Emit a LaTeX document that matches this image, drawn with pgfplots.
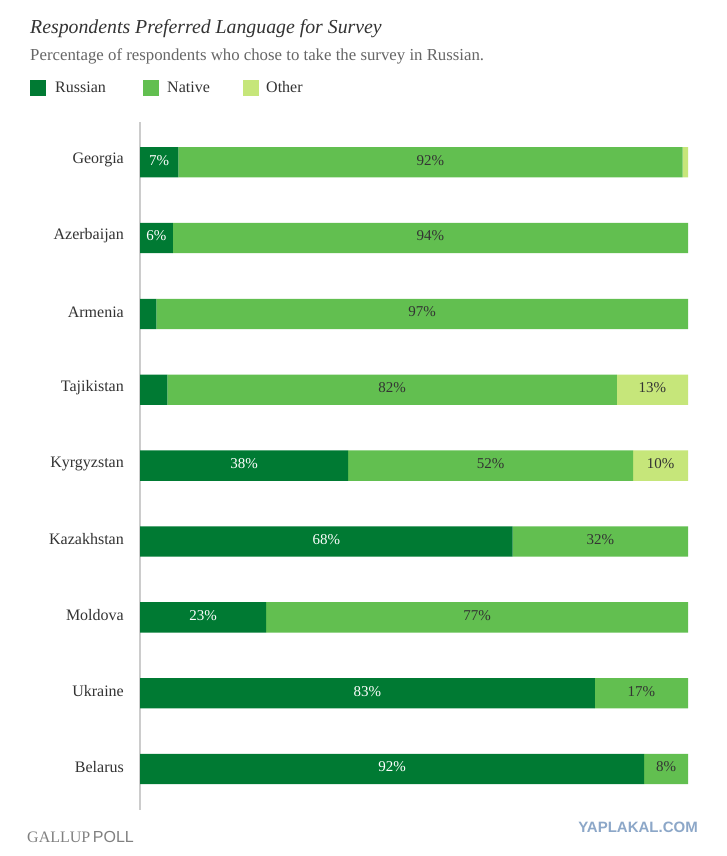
\documentclass[border=0pt]{standalone}
\usepackage{pgfplots}
\pgfplotsset{compat=1.18}
\usepackage{fontspec}
\setmainfont{Liberation Serif}
\setsansfont{Liberation Sans}
\definecolor{rus}{HTML}{007A33}
\definecolor{nat}{HTML}{62BF50}
\definecolor{oth}{HTML}{C6E67A}
\definecolor{txt}{HTML}{333333}
\definecolor{sub}{HTML}{666666}
\definecolor{yap}{HTML}{8CA7C8}
\begin{document}
\begin{tikzpicture}
\path[use as bounding box, fill=white] (0,0) rectangle (726pt,-856pt);
\node[anchor=base west, inner sep=0, font=\fontsize{19.8}{22}\selectfont\itshape, text=txt] at (30pt,-34pt) {Respondents Preferred Language for Survey};
\node[anchor=base west, inner sep=0, font=\fontsize{16.8}{19}\selectfont, text=sub] at (30pt,-61pt) {Percentage of respondents who chose to take the survey in Russian.};
\fill[rus] (30pt,-80pt) rectangle (46pt,-96pt);
\fill[nat] (143pt,-80pt) rectangle (159pt,-96pt);
\fill[oth] (243pt,-80pt) rectangle (259pt,-96pt);
\node[anchor=base west, inner sep=0, font=\fontsize{16}{18}\selectfont, text=txt] at (55pt,-93pt) {Russian};
\node[anchor=base west, inner sep=0, font=\fontsize{16}{18}\selectfont, text=txt] at (167pt,-93pt) {Native};
\node[anchor=base west, inner sep=0, font=\fontsize{16}{18}\selectfont, text=txt] at (266pt,-93pt) {Other};
\begin{scope}
\clip (0pt,-800pt) rectangle (141pt,-856pt);
\node[anchor=base west, inner sep=0, text=gray] at (27pt,-842pt) {\fontsize{16}{18}\selectfont GALLUP\,\sffamily\fontsize{16}{18}\selectfont POLL};
\end{scope}
\node[anchor=base east, inner sep=0, font=\sffamily\bfseries\fontsize{15}{17}\selectfont, text=yap] at (698pt,-832pt) {YAPLAKAL.COM};
\begin{axis}[
  at={(140pt,-810pt)}, anchor=south west, scale only axis,
  width=548pt, height=688pt,
  xmin=0, xmax=100, ymin=-0.53, ymax=8.54, y dir=reverse,
  xbar stacked, bar width=0.4,
  axis x line=none, axis y line*=left,
  axis line style={-, draw=black!20, line width=1.5pt},
  ytick={0,...,8},
  yticklabels={Georgia,Azerbaijan,Armenia,Tajikistan,Kyrgyzstan,Kazakhstan,Moldova,Ukraine,Belarus},
  major tick length=0pt,
  yticklabel style={font=\fontsize{16}{18}\selectfont, text=txt, inner sep=0pt, xshift=-16pt, yshift=2pt},
]
\addplot[fill=rus, draw=none] coordinates {(7,0) (6,1) (3,2) (5,3) (38,4) (68,5) (23,6) (83,7) (92,8)};
\addplot[fill=nat, draw=none] coordinates {(92,0) (94,1) (97,2) (82,3) (52,4) (32,5) (77,6) (17,7) (8,8)};
\addplot[fill=oth, draw=none] coordinates {(1,0) (0,1) (0,2) (13,3) (10,4) (0,5) (0,6) (0,7) (0,8)};
\end{axis}
\begin{axis}[
  at={(140pt,-810pt)}, anchor=south west, scale only axis,
  width=548pt, height=688pt,
  xmin=0, xmax=100, ymin=-0.53, ymax=8.54, y dir=reverse,
  hide axis, clip=false,
  nodes near coords, nodes near coords align={center}, point meta=explicit symbolic,
]
\addplot[draw=none, mark=none, nodes near coords style={text=white, font=\fontsize{15}{17}\selectfont, yshift=2pt}] coordinates {
(3.5,0) [7\%] (3,1) [6\%] (19,4) [38\%] (34,5) [68\%] (11.5,6) [23\%] (41.5,7) [83\%] (46,8) [92\%]};
\addplot[draw=none, mark=none, nodes near coords style={text=txt, font=\fontsize{15}{17}\selectfont, yshift=2pt}] coordinates {
(53,0) [92\%] (53,1) [94\%] (51.5,2) [97\%] (46,3) [82\%] (93.5,3) [13\%] (64,4) [52\%] (95,4) [10\%] (84,5) [32\%] (61.5,6) [77\%] (91.5,7) [17\%] (96,8) [8\%]};
\end{axis}
\end{tikzpicture}
\end{document}
